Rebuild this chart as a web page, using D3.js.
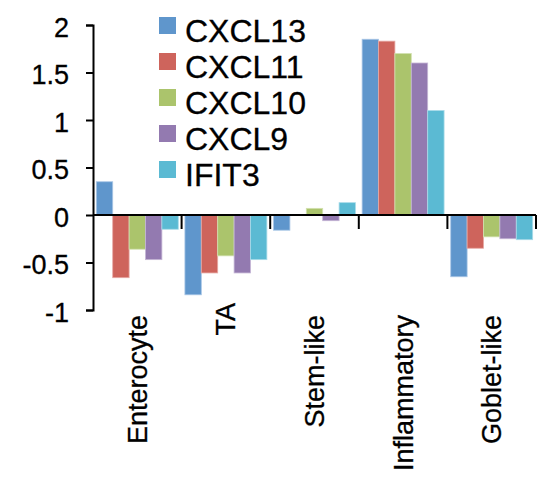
<!DOCTYPE html>
<html>
<head>
<meta charset="utf-8">
<script src="https://cdn.jsdelivr.net/npm/d3@7"></script>
<style>
  html, body { margin: 0; padding: 0; background: #fff; }
  svg { display: block; }
  text { font-family: "Liberation Sans", Arial, sans-serif; fill: #000; stroke: #000; stroke-width: 0.3px; }
</style>
</head>
<body>
<svg id="chart" width="546" height="479"></svg>
<script>
// Cell-type categories along the x axis
const categories = ["Enterocyte", "TA", "Stem-like", "Inflammatory", "Goblet-like"];
// Genes shown as grouped bars
const genes = ["CXCL13", "CXCL11", "CXCL10", "CXCL9", "IFIT3"];
// One value per category, per gene
const CXCL13 = [0.35, -0.84, -0.16, 1.85, -0.65];
const CXCL11 = [-0.66, -0.61, 0.0, 1.83, -0.35];
const CXCL10 = [-0.36, -0.43, 0.07, 1.70, -0.23];
const CXCL9  = [-0.47, -0.61, -0.06, 1.60, -0.25];
const IFIT3  = [-0.15, -0.47, 0.13, 1.10, -0.26];
const yTicks = [-1, -0.5, 0, 0.5, 1, 1.5, 2];

const seriesValues = { CXCL13, CXCL11, CXCL10, CXCL9, IFIT3 };
const colors = ["#5F96CC", "#CE645C", "#ABC46C", "#937AB0", "#5BBAD3"];
const strokes = ["#A9C6E6", "#E6A9A4", "#D2E1B0", "#C5B6D6", "#A9DBE9"];

const svg = d3.select("#chart");
const plotLeft = 93, plotRight = 536, plotTop = 25, plotBottom = 310;

const y = d3.scaleLinear().domain([-1, 2]).range([plotBottom, plotTop]);
const x = d3.scaleBand().domain(categories).range([plotLeft, plotRight])
  .paddingInner(0.075).paddingOuter(0.0375);
const xCat = d3.scaleBand().domain(categories).range([plotLeft, plotRight]);
const xGene = d3.scaleBand().domain(genes).range([0, x.bandwidth()]);

// Bars
const groups = svg.append("g").selectAll("g")
  .data(categories)
  .join("g")
  .attr("transform", c => `translate(${x(c)},0)`);

groups.selectAll("rect")
  .data((c, ci) => genes.map((g, gi) => ({ g, gi, v: seriesValues[g][ci] })))
  .join("rect")
  .attr("x", d => xGene(d.g))
  .attr("width", xGene.bandwidth())
  .attr("y", d => y(Math.max(0, d.v)))
  .attr("height", d => Math.abs(y(d.v) - y(0)))
  .attr("fill", d => colors[d.gi])
  .attr("stroke", d => strokes[d.gi])
  .attr("stroke-width", 0.8);

// Y axis
const yAxis = d3.axisLeft(y).tickValues(yTicks).tickSize(7).tickPadding(17)
  .tickFormat(d => String(d));
const yg = svg.append("g").attr("transform", `translate(${plotLeft},0)`).call(yAxis);
yg.select(".domain").attr("stroke", "#000").attr("stroke-width", 2);
yg.selectAll(".tick line").attr("stroke", "#000").attr("stroke-width", 2);
yg.selectAll(".tick text")
  .style("font-family", "'Liberation Sans', Arial, sans-serif")
  .style("font-size", "27px")
  .attr("dy", "0.42em")
  .attr("fill", "#000");

// Zero line with category divider ticks
const xAxis = d3.axisBottom(xCat).tickSize(0).tickFormat("");
const xg = svg.append("g").attr("transform", `translate(0,${y(0)})`).call(xAxis);
xg.select(".domain").attr("d", `M${plotLeft},0H${plotRight}`).attr("stroke", "#000").attr("stroke-width", 2);
xg.selectAll(".tick").remove();
const dividers = categories.slice(1).map(c => xCat(c)).concat([plotRight]);
xg.selectAll("line.div")
  .data(dividers)
  .join("line")
  .attr("class", "div")
  .attr("x1", d => d).attr("x2", d => d)
  .attr("y1", 0).attr("y2", 14)
  .attr("stroke", "#000").attr("stroke-width", 2);

// Rotated category labels
svg.append("g").selectAll("text")
  .data(categories)
  .join("text")
  .attr("transform", c => `translate(${xCat(c) + xCat.bandwidth() / 2},${c === "TA" ? 303 : 315}) rotate(-90)`)
  .attr("text-anchor", "end")
  .attr("dy", "0.35em")
  .style("font-size", "27px")
  .text(c => c);

// Legend
const legend = svg.append("g").attr("transform", "translate(159,17)");
const items = legend.selectAll("g")
  .data(genes)
  .join("g")
  .attr("transform", (d, i) => `translate(0,${i * 36})`);
items.append("rect")
  .attr("width", 17).attr("height", 17)
  .attr("fill", (d, i) => colors[i])
  .attr("stroke", "none");
items.append("text")
  .attr("x", 26).attr("y", 25)
  .style("font-size", "32px")
  .text(d => d);
</script>
</body>
</html>
